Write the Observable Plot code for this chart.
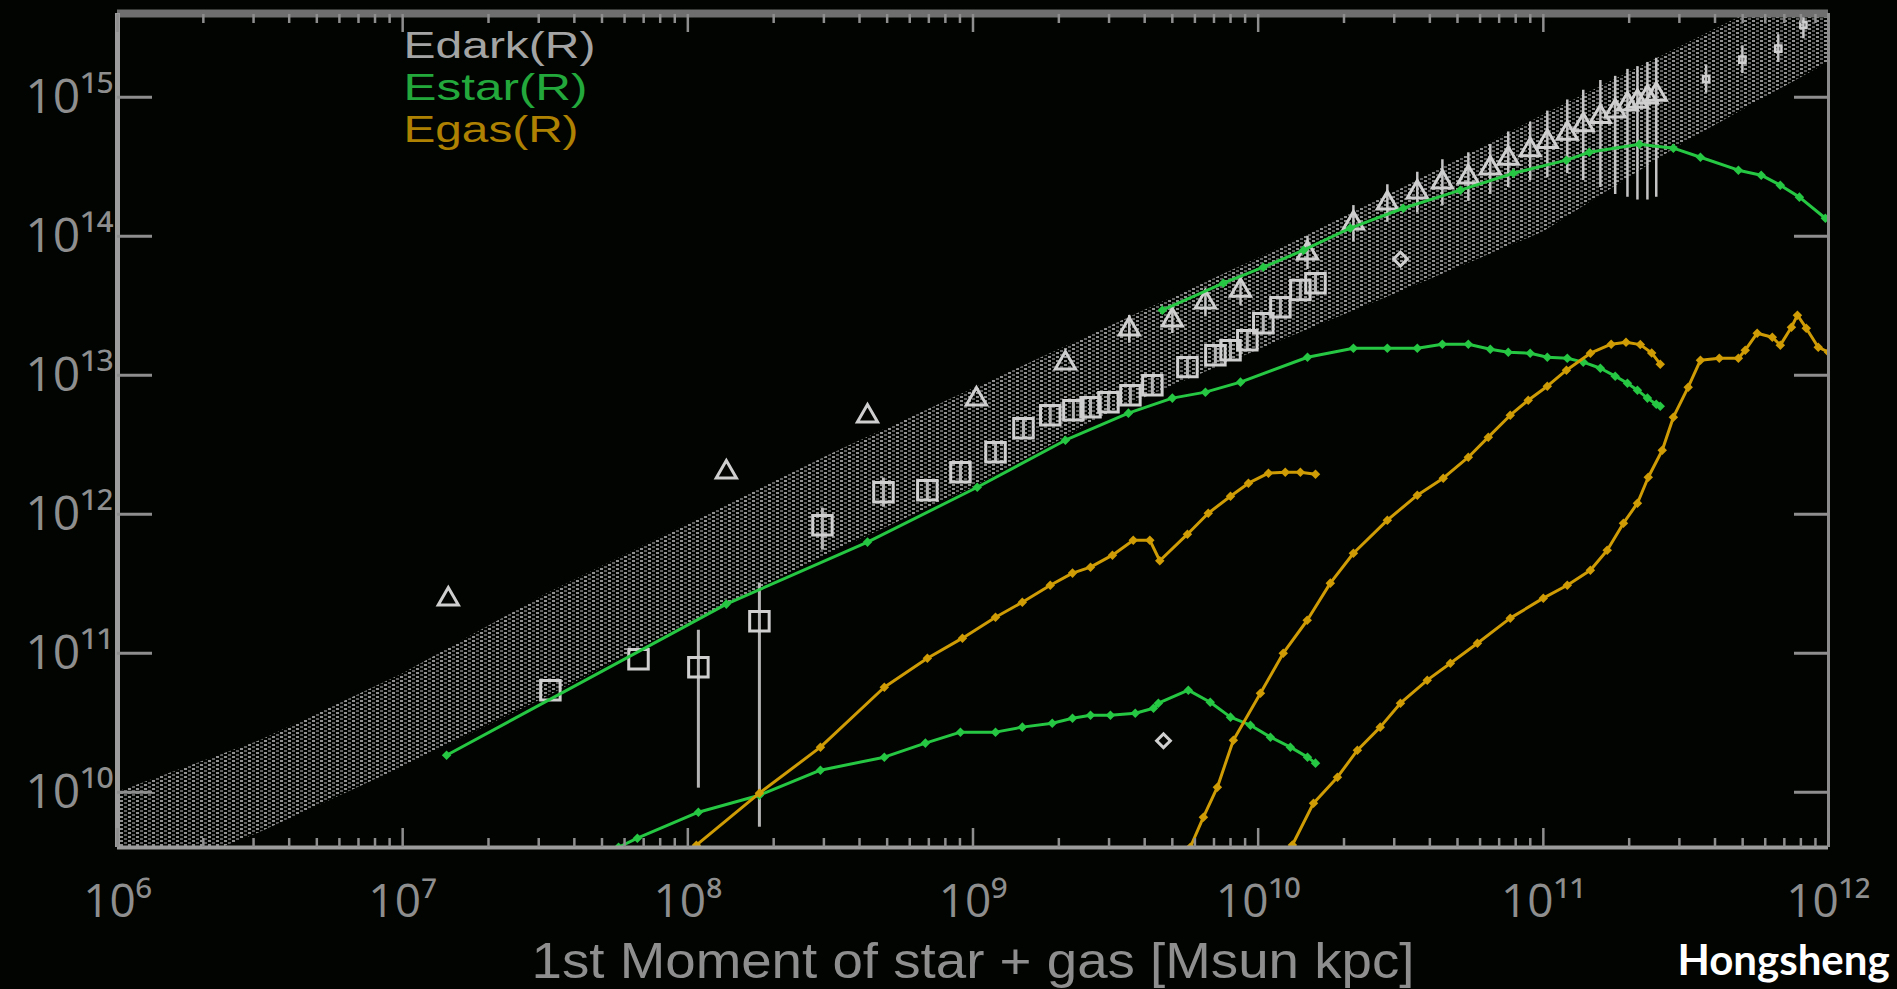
<!DOCTYPE html>
<html>
<head>
<meta charset="utf-8">
<script src="https://cdn.jsdelivr.net/npm/d3@7"></script>
<script src="https://cdn.jsdelivr.net/npm/@observablehq/plot@0.6"></script>
<style>
html, body { margin: 0; padding: 0; background: #010401; overflow: hidden; }
#chart svg { display: block; }
</style>
</head>
<body>
<div id="chart"></div>
<script>
// ---------- scales / ticks ----------
const xDomain = [1e6, 1e12];
const yDomain = [4e9, 4e15];
const xMajorTicks = [1e6, 1e7, 1e8, 1e9, 1e10, 1e11, 1e12];
const yMajorTicks = [1e10, 1e11, 1e12, 1e13, 1e14, 1e15];
const xMinorTicks = [];
for (let e = 6; e < 12; e++) for (let m = 2; m <= 9; m++) xMinorTicks.push(m * 10 ** e);

const xTitle = "1st Moment of star + gas [Msun kpc]";
const legendLabels = ["Edark(R)", "Estar(R)", "Egas(R)"];
const creditLabel = "Hongsheng";

// ---------- data (log10 of x, log10 of y) ----------
// Edark: dense scatter band (upper / lower envelope)
const bandLogX  = [6.0, 6.5, 7.0, 7.5, 8.0, 8.5, 9.0, 9.5, 10.0, 10.5, 11.0, 11.5, 12.0];
const bandLogHi = [10.0, 10.37, 10.85, 11.42, 11.93, 12.43, 12.90, 13.37, 13.84, 14.34, 14.87, 15.38, 15.9];
const bandLogLo = [9.3, 9.71, 10.18, 10.68, 11.21, 11.72, 12.19, 12.75, 13.18, 13.60, 14.03, 14.68, 15.25];

// Edark triangles [logx, logy, errLo, errHi]
const edarkTriangles = [
  [7.160, 11.388], [8.135, 12.302], [8.630, 12.705], [9.012, 12.827], [9.324, 13.086],
  [9.548, 13.331, 13.23, 13.43], [9.699, 13.396, 13.30, 13.50], [9.815, 13.525, 13.42, 13.62],
  [9.938, 13.61, 13.50, 13.72], [10.173, 13.878, 13.76, 14.00], [10.334, 14.094, 13.96, 14.22],
  [10.453, 14.237, 14.10, 14.37], [10.558, 14.317, 14.17, 14.46], [10.646, 14.388, 14.22, 14.55],
  [10.737, 14.424, 14.25, 14.60], [10.814, 14.49, 14.30, 14.66], [10.877, 14.56, 14.35, 14.75],
  [10.954, 14.62, 14.40, 14.82], [11.014, 14.68, 14.42, 14.90], [11.084, 14.74, 14.45, 14.98],
  [11.140, 14.80, 14.40, 15.05], [11.200, 14.86, 14.35, 15.12], [11.252, 14.90, 14.30, 15.15],
  [11.295, 14.95, 14.28, 15.20], [11.330, 14.97, 14.26, 15.22], [11.365, 15.00, 14.26, 15.25],
  [11.396, 15.02, 14.28, 15.28]
];
// Edark small crosses beyond the last triangle [logx, logy, errLo, errHi]
const edarkCrosses = [
  [11.571, 15.13, 15.03, 15.23], [11.698, 15.27, 15.17, 15.37],
  [11.824, 15.35, 15.25, 15.45], [11.912, 15.52, 15.42, 15.60]
];

// Edark squares [logx, logy, errLo, errHi]
const edarkSquares = [
  [7.518, 10.734], [7.827, 10.957], [8.037, 10.899, 10.029, 11.165], [8.251, 11.230, 9.748, 11.504],
  [8.472, 11.921, 11.741, 12.043], [8.686, 12.158, 12.05, 12.26], [8.840, 12.173, 12.10, 12.25],
  [8.956, 12.302, 12.23, 12.37], [9.079, 12.446, 12.37, 12.52], [9.177, 12.619, 12.55, 12.69],
  [9.271, 12.712, 12.64, 12.78], [9.352, 12.748, 12.68, 12.82], [9.412, 12.770, 12.70, 12.84],
  [9.475, 12.806, 12.74, 12.87], [9.552, 12.856, 12.79, 12.92], [9.629, 12.928, 12.86, 13.00],
  [9.752, 13.058, 12.99, 13.13], [9.850, 13.144, 13.08, 13.21], [9.903, 13.180, 13.11, 13.25],
  [9.962, 13.252, 13.18, 13.32], [10.018, 13.374, 13.30, 13.45], [10.078, 13.489, 13.42, 13.56],
  [10.148, 13.612, 13.54, 13.68], [10.201, 13.662, 13.59, 13.73]
];

// Edark diamonds
const edarkDiamonds = [[9.668, 10.37], [10.499, 13.835]];

// Estar curves
const estarInner = [
  [7.757, 9.604], [7.823, 9.669], [8.037, 9.856], [8.251, 9.978], [8.465, 10.158], [8.689, 10.252],
  [8.833, 10.353], [8.956, 10.432], [9.079, 10.432], [9.173, 10.468], [9.278, 10.496], [9.349, 10.532],
  [9.412, 10.554], [9.482, 10.554], [9.569, 10.568], [9.633, 10.604], [9.650, 10.640], [9.755, 10.734],
  [9.832, 10.647], [9.903, 10.540], [9.973, 10.482], [10.043, 10.396], [10.113, 10.324], [10.173, 10.252],
  [10.201, 10.209]
];
const estarMid = [
  [7.154, 10.266], [8.135, 11.353], [8.630, 11.799], [9.015, 12.194], [9.324, 12.532], [9.545, 12.727],
  [9.699, 12.835], [9.815, 12.878], [9.938, 12.950], [10.173, 13.129], [10.334, 13.194], [10.453, 13.194],
  [10.558, 13.194], [10.646, 13.223], [10.737, 13.223], [10.814, 13.187], [10.877, 13.165], [10.954, 13.158],
  [11.014, 13.129], [11.084, 13.122], [11.140, 13.094], [11.200, 13.050], [11.252, 12.993], [11.295, 12.942],
  [11.330, 12.892], [11.365, 12.835], [11.396, 12.791], [11.410, 12.777]
];
const estarOuter = [
  [9.664, 13.468], [9.878, 13.662], [10.018, 13.777], [10.159, 13.899], [10.323, 14.058], [10.509, 14.201],
  [10.709, 14.331], [10.895, 14.453], [11.081, 14.547], [11.161, 14.604], [11.337, 14.662], [11.456, 14.633],
  [11.551, 14.568], [11.684, 14.475], [11.764, 14.439], [11.831, 14.367], [11.898, 14.281], [11.989, 14.129]
];

// Egas curves
const egasInner = [
  [8.030, 9.619], [8.251, 9.993], [8.465, 10.324], [8.689, 10.755], [8.840, 10.964], [8.963, 11.108],
  [9.079, 11.259], [9.173, 11.367], [9.271, 11.489], [9.349, 11.576], [9.412, 11.619], [9.489, 11.705],
  [9.562, 11.813], [9.620, 11.813], [9.655, 11.665], [9.752, 11.856], [9.825, 12.007], [9.903, 12.129],
  [9.966, 12.223], [10.036, 12.295], [10.095, 12.302], [10.148, 12.302], [10.201, 12.288]
];
const egasMid = [
  [9.762, 9.604], [9.808, 9.820], [9.857, 10.036], [9.913, 10.374], [10.008, 10.712], [10.088, 11.000],
  [10.172, 11.237], [10.253, 11.504], [10.334, 11.719], [10.453, 11.957], [10.558, 12.137], [10.649, 12.259],
  [10.737, 12.410], [10.807, 12.554], [10.884, 12.712], [10.947, 12.820], [11.014, 12.921], [11.081, 13.036],
  [11.165, 13.158], [11.238, 13.223], [11.290, 13.237], [11.340, 13.220], [11.380, 13.160], [11.410, 13.079]
];
const egasOuter = [
  [10.12, 9.62], [10.194, 9.921], [10.278, 10.108], [10.348, 10.302], [10.428, 10.468], [10.499, 10.640],
  [10.593, 10.806], [10.674, 10.928], [10.769, 11.072], [10.884, 11.252], [11.000, 11.396], [11.084, 11.489],
  [11.165, 11.597], [11.224, 11.741], [11.281, 11.935], [11.330, 12.079], [11.368, 12.266], [11.417, 12.460],
  [11.456, 12.698], [11.508, 12.914], [11.551, 13.108], [11.617, 13.122], [11.684, 13.122], [11.708, 13.180],
  [11.750, 13.302], [11.803, 13.273], [11.831, 13.216], [11.870, 13.345], [11.891, 13.432], [11.922, 13.338],
  [11.964, 13.201], [12.0, 13.165]
];

// ---------- styling ----------
const GREEN = "#26c742";
const GOLD = "#cf9c05";
const WHITE = "#cfcfcf";
const AXIS = "#8e8e8e";
const FONT = "'Open Sans', 'DejaVu Sans', sans-serif";
const FONT_TIGHT = "'Liberation Sans', Arial, sans-serif";
const SUP = "⁰¹²³⁴⁵⁶⁷⁸⁹";
const powLabel = d => "10" + String(Math.round(Math.log10(d))).split("").map(c => SUP[+c]).join("");

// ---------- tables built from arrays ----------
const pts = a => a.map(([lx, ly]) => ({x: 10 ** lx, y: 10 ** ly}));
const errs = a => a.filter(d => d.length > 2).map(([lx, , lo, hi]) => ({x: 10 ** lx, y1: 10 ** lo, y2: 10 ** hi}));
const band = bandLogX.map((lx, i) => ({x: 10 ** lx, lo: 10 ** bandLogLo[i], hi: 10 ** bandLogHi[i]}));

const curve = (data, color) => [
  Plot.line(pts(data), {x: "x", y: "y", stroke: color, strokeWidth: 3, clip: true}),
  Plot.dot(pts(data), {x: "x", y: "y", symbol: "square", r: 3.8, rotate: 45, fill: color, clip: true})
];
const blank = () => "";
const legendText = (i, color, dy) =>
  Plot.text([legendLabels[i]], {text: d => d, frameAnchor: "top-left", textAnchor: "start", lineAnchor: "bottom",
    dx: 286, dy, fill: color, fontSize: 37, fontFamily: FONT_TIGHT});

const svg = Plot.plot({
  width: 1897,
  height: 989,
  marginLeft: 117,
  marginRight: 69,
  marginTop: 13,
  marginBottom: 142,
  style: {background: "#010401", fontFamily: FONT, fontSize: "46px", color: AXIS},
  x: {type: "log", domain: xDomain},
  y: {type: "log", domain: yDomain},
  marks: [
    // Edark band
    Plot.areaY(band, {x: "x", y1: "lo", y2: "hi", fill: "url(#edarkDots)", curve: "linear", clip: true}),
    // error bars
    Plot.ruleX(errs(edarkSquares), {x: "x", y1: "y1", y2: "y2", stroke: "#b4b4b4", strokeWidth: 3, clip: true}),
    Plot.ruleX(errs(edarkTriangles), {x: "x", y1: "y1", y2: "y2", stroke: "#c4c4c4", strokeWidth: 2.5, clip: true}),
    Plot.ruleX(errs(edarkCrosses), {x: "x", y1: "y1", y2: "y2", stroke: "#c4c4c4", strokeWidth: 2.5, clip: true}),
    // Edark markers
    Plot.dot(pts(edarkSquares), {x: "x", y: "y", symbol: "square", r: 11, stroke: WHITE, strokeWidth: 3, fill: "none", clip: true}),
    Plot.dot(pts(edarkTriangles), {x: "x", y: "y", symbol: "triangle", r: 7.5, stroke: WHITE, strokeWidth: 3, fill: "none", clip: true}),
    Plot.dot(pts(edarkCrosses), {x: "x", y: "y", symbol: "square", r: 3.5, stroke: WHITE, strokeWidth: 2.5, fill: "none", clip: true}),
    Plot.dot(pts(edarkDiamonds), {x: "x", y: "y", symbol: "square", r: 5.5, rotate: 45, stroke: WHITE, strokeWidth: 3, fill: "none", clip: true}),
    // Estar / Egas curves
    ...curve(estarInner, GREEN),
    ...curve(estarMid, GREEN),
    ...curve(estarOuter, GREEN),
    ...curve(egasInner, GOLD),
    ...curve(egasMid, GOLD),
    ...curve(egasOuter, GOLD),
    // frame
    Plot.ruleY([yDomain[1]], {stroke: "#6f6f6f", strokeWidth: 8}),
    Plot.ruleY([yDomain[0]], {stroke: "#9c9c9c", strokeWidth: 4}),
    Plot.ruleX([xDomain[0]], {stroke: "#9c9c9c", strokeWidth: 5}),
    Plot.ruleX([xDomain[1]], {stroke: "#8c8c8c", strokeWidth: 3}),
    // inward ticks
    Plot.axisX({anchor: "bottom", ticks: xMajorTicks, tickSize: -19, tickFormat: blank, strokeWidth: 2.5, label: null}),
    Plot.axisX({anchor: "bottom", ticks: xMinorTicks, tickSize: -9, tickFormat: blank, strokeWidth: 2.5, label: null}),
    Plot.axisX({anchor: "top", ticks: xMajorTicks, tickSize: -18, tickFormat: blank, strokeWidth: 2.5, label: null}),
    Plot.axisX({anchor: "top", ticks: xMinorTicks, tickSize: -9, tickFormat: blank, strokeWidth: 2.5, label: null}),
    Plot.axisY({anchor: "left", ticks: yMajorTicks, tickSize: -35, tickFormat: blank, strokeWidth: 3, label: null}),
    Plot.axisY({anchor: "right", ticks: yMajorTicks, tickSize: -35, tickFormat: blank, strokeWidth: 3, label: null}),
    // tick labels
    Plot.axisX({anchor: "bottom", ticks: xMajorTicks, tickSize: 0, tickPadding: 37, tickFormat: powLabel, fontSize: 46, fill: AXIS, label: null}),
    Plot.axisY({anchor: "left", ticks: yMajorTicks, tickSize: 0, tickPadding: 4, tickFormat: powLabel, fontSize: 48, fill: AXIS, label: null}),
    // axis title
    Plot.text([xTitle], {text: d => d, frameAnchor: "bottom", lineAnchor: "bottom", dy: 130, fill: AXIS, fontSize: 50, fontFamily: FONT_TIGHT}),
    // legend
    legendText(0, "#a4a4a4", 44),
    legendText(1, "#23a83c", 86),
    legendText(2, "#ae8103", 128),
    // credit
    Plot.text([creditLabel], {text: d => d, frameAnchor: "bottom-right", textAnchor: "start", lineAnchor: "bottom", dx: -151, dy: 127, fill: "#ffffff", fontSize: 42, fontWeight: 700, fontFamily: "Lato, 'Open Sans', sans-serif"})
  ]
});

// dotted texture for the Edark band
const defs = d3.select(svg).insert("defs", ":first-child");
const pat = defs.append("pattern").attr("id", "edarkDots").attr("patternUnits", "userSpaceOnUse").attr("width", 8).attr("height", 4);
pat.append("rect").attr("x", 0).attr("y", 0).attr("width", 3).attr("height", 2).attr("fill", "#909090");
pat.append("rect").attr("x", 4).attr("y", 2).attr("width", 3).attr("height", 2).attr("fill", "#626262");

// stretch the wide vector-font texts to the reference widths
const textWidths = {"Edark(R)": 192, "Estar(R)": 184, "Egas(R)": 175};
textWidths[xTitle] = 883;
d3.select(svg).selectAll("text").each(function () {
  const w = textWidths[this.textContent];
  if (w) d3.select(this).attr("textLength", w).attr("lengthAdjust", "spacingAndGlyphs");
});

document.getElementById("chart").append(svg);
</script>
</body>
</html>
